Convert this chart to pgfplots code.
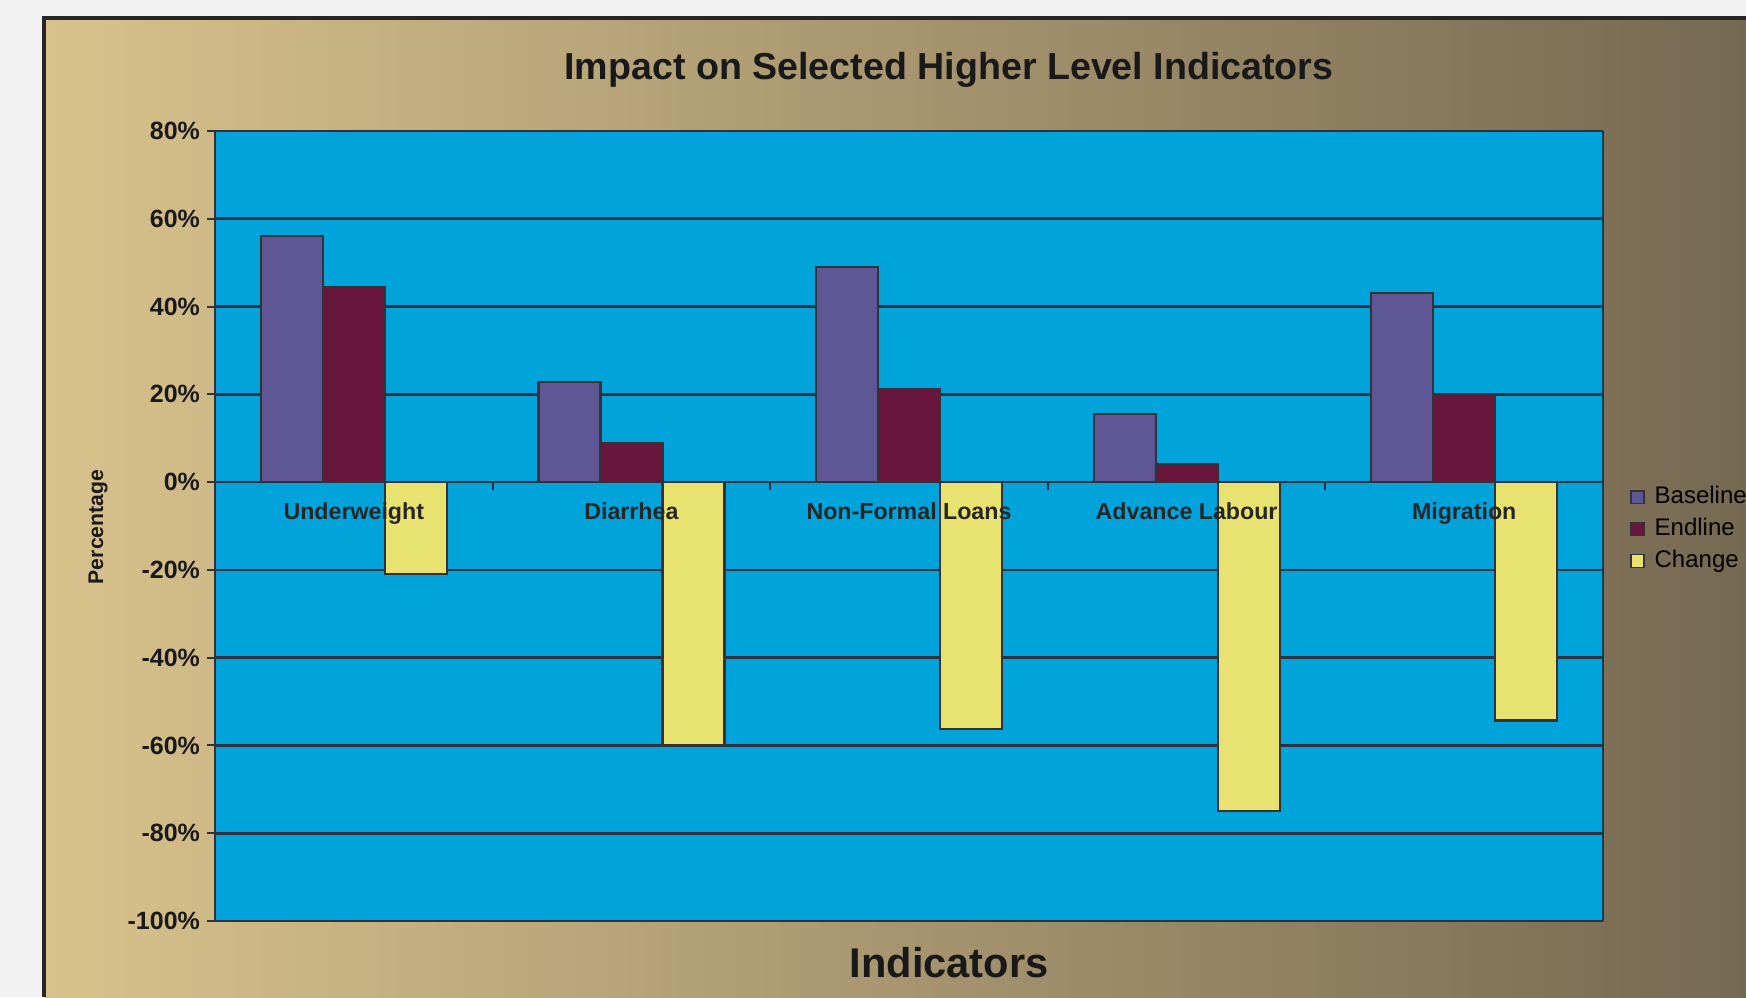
\documentclass[border=0pt]{standalone}
\usepackage{pgfplots}
\pgfplotsset{compat=1.18}
\usepackage{fontspec}
\setmainfont{Liberation Sans}
\definecolor{outerbg}{RGB}{242,242,242}
\definecolor{bgL}{RGB}{216,194,140}
\definecolor{bgM}{RGB}{196,166,108}
\definecolor{bgR}{RGB}{118,105,82}
\definecolor{plotbg}{RGB}{0,163,218}
\definecolor{cBase}{RGB}{95,86,150}
\definecolor{cEnd}{RGB}{104,22,60}
\definecolor{cChg}{RGB}{232,226,112}
\definecolor{gridc}{RGB}{45,50,62}
\definecolor{edgec}{RGB}{50,50,55}
\pgfplotsset{
  myframe/.style={
    at={(107.5pt,38pt)}, anchor=south west,
    scale only axis, width=694pt, height=395pt,
    xmin=-0.5, xmax=4.5, ymin=-100, ymax=80,
  }
}
\begin{document}
\begin{tikzpicture}
\path[use as bounding box] (0,0) rectangle (873pt,498.5pt);
\fill[outerbg] (0,0) rectangle (873pt,498.5pt);
\shade[left color=bgL, middle color=bgM, right color=bgR] (22pt,0) rectangle (873pt,489.5pt);
\draw[line width=2pt, black!85] (22pt,0) -- (22pt,489.5pt) -- (873pt,489.5pt);
\node[font=\bfseries\fontsize{18.8}{22}\selectfont, text=black!90] at (474.5pt,463.5pt) {Impact on Selected Higher Level Indicators};
\node[font=\bfseries\fontsize{20.8}{24}\selectfont, text=black!90] at (474.5pt,17pt) {Indicators};
\node[font=\bfseries\fontsize{10.6}{12}\selectfont, rotate=90, text=black!90] at (49pt,235pt) {Percentage};
\begin{axis}[
  myframe,
  axis x line=middle, axis y line=left,
  axis line style={-, draw=gridc, line width=1.3pt},
  axis background/.style={fill=plotbg},
  ytick={-100,-80,...,80},
  yticklabel={\pgfmathprintnumber[assume math mode=true]{\tick}\%},
  yticklabel style={font=\bfseries\fontsize{12.5}{14}\selectfont, text=black!90},
  tick style={draw=gridc, line width=1pt},
  tick align=outside,
  major tick length=4pt,
  ymajorgrids,
  major grid style={draw=gridc, line width=1.3pt},
  xtick={0.5,1.5,2.5,3.5}, xticklabels={,,,},
  ybar=0pt, bar width=31pt,
  legend style={at={(1.0195,0.5518)}, anchor=north west, draw=none, fill=none,
    font=\fontsize{12}{14}\selectfont, inner sep=0pt, row sep=3.9pt, column sep=5pt,
    nodes={inner sep=0pt, text height=9pt, text depth=3pt}, cells={anchor=west}},
  legend image code/.code={\draw[#1, draw=edgec, line width=0.6pt] (0pt,-3.2pt) rectangle (6.5pt,3.2pt);},
  clip=false,
]
\addplot[fill=cBase, draw=edgec, line width=1.1pt] coordinates {(0,56) (1,22.8) (2,49) (3,15.5) (4,43)};
\addplot[fill=cEnd, draw=edgec, line width=1.1pt] coordinates {(0,44.4) (1,9) (2,21.3) (3,4) (4,20)};
\addplot[fill=cChg, draw=edgec, line width=1.1pt] coordinates {(0,-21) (1,-60) (2,-56.3) (3,-75) (4,-54.3)};
\legend{Baseline,Endline,Change}
\draw[gridc, line width=1.3pt] (rel axis cs:0,0) -- (rel axis cs:1,0);
\draw[gridc, line width=1.3pt] (rel axis cs:0,1) -- (rel axis cs:1,1);
\draw[black!60!plotbg, line width=1pt] (rel axis cs:1,0) -- (rel axis cs:1,1);
\end{axis}
\begin{axis}[
  myframe,
  axis x line=middle, axis y line=none,
  axis line style={-, draw=gridc, line width=1.3pt},
  xtick={0,1,2,3,4},
  xticklabels={Underweight,Diarrhea,Non-Formal Loans,Advance Labour,Migration},
  xtick style={draw=none}, major tick length=0pt,
  xticklabel style={font=\bfseries\fontsize{11.6}{13}\selectfont, text=black!85, yshift=-7pt},
  ytick=\empty,
]
\end{axis}
\end{tikzpicture}
\end{document}
